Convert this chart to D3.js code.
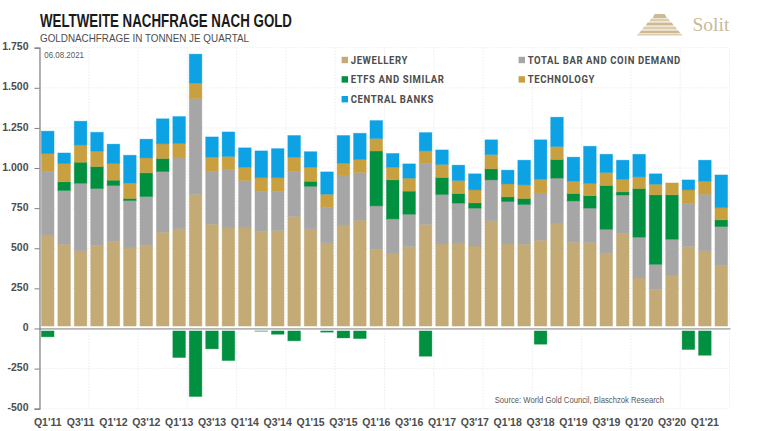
<!DOCTYPE html>
<html>
<head>
<meta charset="utf-8">
<script src="https://cdn.jsdelivr.net/npm/d3@7.9.0/dist/d3.min.js"></script>
<style>
  html, body { margin: 0; background: #fff; }
  svg { display: block; }
  text { font-family: "Liberation Sans", Arial, sans-serif; }
  .axis text { font-size: 10.5px; font-weight: bold; fill: #4d4d4d; }
</style>
</head>
<body>
<svg id="chart" width="768" height="431"></svg>
<script>
const quarters = ["Q1'11","Q2'11","Q3'11","Q4'11","Q1'12","Q2'12","Q3'12","Q4'12","Q1'13","Q2'13","Q3'13","Q4'13","Q1'14","Q2'14","Q3'14","Q4'14","Q1'15","Q2'15","Q3'15","Q4'15","Q1'16","Q2'16","Q3'16","Q4'16","Q1'17","Q2'17","Q3'17","Q4'17","Q1'18","Q2'18","Q3'18","Q4'18","Q1'19","Q2'19","Q3'19","Q4'19","Q1'20","Q2'20","Q3'20","Q4'20","Q1'21","Q2'21"];

const jewellery = [583,525,484,519,542,502,519,600,621,836,650,627,627,604,610,698,621,534,640,675,492,465,511,648,527,533,514,671,527,525,550,652,538,536,471,592,315,244,333,511,484,392];
const barCoin = [395,335,421,353,349,295,303,378,442,597,328,363,295,251,245,282,265,219,311,297,272,218,201,380,308,248,236,255,264,248,295,285,257,214,147,240,254,156,223,270,353,243];
const etfs = [-52,54,131,137,33,13,148,81,-181,-424,-127,-200,0,-17,-36,-77,31,-23,-59,-63,342,243,144,-173,106,60,33,69,29,37,-98,116,46,78,273,19,303,433,277,-131,-167,42];
const technology = [112,114,108,97,104,97,93,92,90,96,90,82,83,85,85,87,88,84,79,81,78,79,81,79,81,81,81,89,81,85,85,81,77,76,81,79,73,66,74,83,81,76];
const centralBanks = [140,66,148,117,121,173,117,156,168,181,126,153,121,167,181,136,97,139,173,164,112,86,89,114,91,96,100,92,86,154,246,183,150,232,114,119,141,65,0,62,131,204];

const seriesKeys = ["jewellery","barCoin","etfs","technology","centralBanks"];
const seriesColors = ["#c4ab76","#a6a6a6","#009040","#c8a040","#0ca2e4"];
const legendLabels = ["JEWELLERY","TOTAL BAR AND COIN DEMAND","ETFS AND SIMILAR","TECHNOLOGY","CENTRAL BANKS"];
const yTicks = [-500,-250,0,250,500,750,1000,1250,1500,1750];
const xLabels = quarters.filter((q, i) => i % 2 === 0);
const gridQuarters = quarters.filter((q, i) => i % 3 === 0);

const rows = quarters.map((q, i) => ({
  quarter: q,
  jewellery: jewellery[i],
  barCoin: barCoin[i],
  etfs: etfs[i],
  technology: technology[i],
  centralBanks: centralBanks[i]
}));

const svg = d3.select("#chart");
const plotLeft = 39.5, plotRight = 729.5, plotTop = 47.7, plotBottom = 408.7;

const x = d3.scaleBand().domain(quarters).range([plotLeft, plotRight]).paddingInner(0.23).paddingOuter(0.115);
const y = d3.scaleLinear().domain([-500, 1750]).range([plotBottom, plotTop]);
const color = d3.scaleOrdinal(seriesKeys, seriesColors);
const stacked = d3.stack().keys(seriesKeys).offset(d3.stackOffsetDiverging)(rows);

const gap = x.step() - x.bandwidth();

// grid
const grid = svg.append("g").attr("stroke", "#e9e9e9").attr("stroke-width", 0.8).attr("stroke-dasharray", "1.5 1.5");
grid.selectAll("line.h")
  .data(yTicks.filter((t) => t !== 0))
  .join("line")
  .attr("class", "h")
  .attr("x1", plotLeft).attr("x2", plotRight)
  .attr("y1", (d) => y(d)).attr("y2", (d) => y(d));
grid.selectAll("line.v")
  .data(gridQuarters)
  .join("line")
  .attr("class", "v")
  .attr("y1", plotTop).attr("y2", plotBottom)
  .attr("x1", (d) => x(d) - gap / 2)
  .attr("x2", (d) => x(d) - gap / 2);
grid.append("line").attr("x1", plotRight).attr("x2", plotRight).attr("y1", plotTop).attr("y2", plotBottom);

// bars
svg.append("g")
  .selectAll("g")
  .data(stacked)
  .join("g")
  .attr("fill", (d) => color(d.key))
  .attr("stroke", (d) => color(d.key))
  .selectAll("rect")
  .data((d) => d)
  .join("rect")
  .attr("x", (d) => x(d.data.quarter))
  .attr("width", x.bandwidth())
  .attr("y", (d) => y(Math.max(d[0], d[1])))
  .attr("height", (d) => Math.abs(y(d[0]) - y(d[1])))
  .attr("stroke-opacity", 0.45)
  .attr("stroke-width", 0.8);

// zero line, with the white gap the bars leave around it
svg.append("line")
  .attr("x1", plotLeft).attr("x2", plotRight + 1)
  .attr("y1", y(0)).attr("y2", y(0))
  .attr("stroke", "#fff").attr("stroke-width", 4.4);
svg.append("line")
  .attr("x1", plotLeft).attr("x2", plotRight + 1)
  .attr("y1", y(0) + 0.3).attr("y2", y(0) + 0.3)
  .attr("stroke", "#b4b4b4").attr("stroke-width", 1.7);

// axes
const yFormat = d3.formatLocale({ decimal: ",", thousands: ".", grouping: [3], currency: ["", ""], minus: "-" }).format(",");
const yAxis = svg.append("g")
  .attr("class", "axis")
  .attr("transform", `translate(${plotLeft},0)`)
  .call(d3.axisLeft(y).tickValues(yTicks).tickFormat(yFormat).tickSize(5).tickPadding(6));
yAxis.select(".domain").attr("stroke", "#7f7f7f").attr("stroke-width", 1.2);
yAxis.selectAll(".tick line").attr("stroke", "#7f7f7f");
yAxis.selectAll(".tick text").attr("dy", "0.2em");

const xAxis = svg.append("g")
  .attr("class", "axis")
  .attr("transform", `translate(0,${plotBottom})`)
  .call(d3.axisBottom(x).tickValues(xLabels).tickSize(0).tickPadding(10));
xAxis.select(".domain").remove();

// legend
const legendX = [340, 517];
const legendY = [60, 79.4, 99.2];
const legendPos = [[0,0],[1,0],[0,1],[1,1],[0,2]];
const legend = svg.append("g")
  .selectAll("g")
  .data(legendLabels)
  .join("g")
  .attr("transform", (d, i) => `translate(${legendX[legendPos[i][0]]},${legendY[legendPos[i][1]]})`);
legend.append("rect")
  .attr("x", 1.6).attr("y", -3.2).attr("width", 6.4).attr("height", 6.4)
  .attr("fill", (d, i) => seriesColors[i]);
legend.append("text")
  .attr("transform", "translate(10.7,4) scale(0.868,1)")
  .attr("font-size", 11).attr("font-weight", "bold").attr("fill", "#4d4d4d")
  .style("font-family", "Roboto, sans-serif")
  .style("letter-spacing", "0.7px")
  .text((d) => d);

// titles
svg.append("text").attr("x", 40).attr("y", 27)
  .attr("font-size", 17.5).attr("font-weight", "bold").attr("fill", "#1a1a1a")
  .attr("textLength", 252).attr("lengthAdjust", "spacingAndGlyphs")
  .text("WELTWEITE NACHFRAGE NACH GOLD");
svg.append("text").attr("x", 40).attr("y", 42)
  .attr("font-size", 11).attr("fill", "#4d4d4d")
  .attr("textLength", 209).attr("lengthAdjust", "spacingAndGlyphs")
  .text("GOLDNACHFRAGE IN TONNEN JE QUARTAL");
svg.append("text").attr("x", 44.3).attr("y", 58)
  .attr("font-size", 8.5).attr("fill", "#595959")
  .attr("textLength", 39.7).attr("lengthAdjust", "spacingAndGlyphs")
  .text("06.08.2021");
svg.append("text").attr("x", 494.7).attr("y", 403)
  .attr("font-size", 8.5).attr("fill", "#595959")
  .attr("textLength", 169.3).attr("lengthAdjust", "spacingAndGlyphs")
  .text("Source: World Gold Council, Blaschzok Research");

// logo
const logoStripes = [[-5,0,4],[-8.5,4.5,3],[-12,8.5,3],[-15.5,12.5,3],[-18.5,16.5,2.5],[-21,19.5,2]];
svg.append("g").attr("transform", "translate(659.7,14)")
  .selectAll("path")
  .data(logoStripes)
  .join("path")
  .attr("d", (d) => `M${d[0]},${d[1]}L${-d[0]},${d[1]}L${-d[0] + 2},${d[1] + d[2]}L${d[0] - 2},${d[1] + d[2]}Z`)
  .attr("fill", (d, i) => (i % 2 ? "#dccdb0" : "#cdb992"));
svg.append("text").attr("x", 692.5).attr("y", 31)
  .attr("font-size", 19.5).attr("fill", "#c9b99a")
  .style("font-family", "'Liberation Serif', serif")
  .text("Solit");
</script>
</body>
</html>
